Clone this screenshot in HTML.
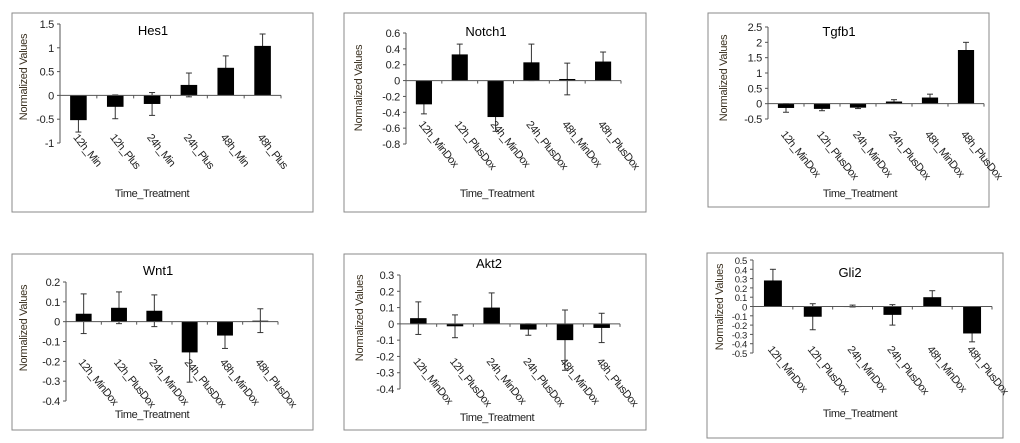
<!DOCTYPE html>
<html><head><meta charset="utf-8"><style>
html,body{margin:0;padding:0;background:#fff;}
svg{display:block;font-family:"Liberation Sans",Arial,sans-serif;}
</style></head><body>
<svg id="chart" width="1020" height="443" viewBox="0 0 1020 443"></svg>
<script>
const hes1Cats = ["12h_Min","12h_Plus","24h_Min","24h_Plus","48h_Min","48h_Plus"];
const doxCats = ["12h_MinDox","12h_PlusDox","24h_MinDox","24h_PlusDox","48h_MinDox","48h_PlusDox"];
const hes1Values = [-0.52,-0.24,-0.18,0.22,0.58,1.04];
const hes1Errors = [0.25,0.25,0.24,0.25,0.25,0.25];
const hes1Ticks = [1.5,1,0.5,0,-0.5,-1];
const notch1Values = [-0.3,0.33,-0.46,0.23,0.02,0.24];
const notch1Errors = [0.12,0.13,0.18,0.23,0.2,0.12];
const notch1Ticks = [0.6,0.4,0.2,0,-0.2,-0.4,-0.6,-0.8];
const tgfb1Values = [-0.14,-0.17,-0.13,0.07,0.2,1.75];
const tgfb1Errors = [0.14,0.06,0.03,0.06,0.11,0.25];
const tgfb1Ticks = [2.5,2,1.5,1,0.5,0,-0.5];
const wnt1Values = [0.04,0.07,0.055,-0.155,-0.07,0.005];
const wnt1Errors = [0.1,0.08,0.08,0.15,0.065,0.06];
const wnt1Ticks = [0.2,0.1,0,-0.1,-0.2,-0.3,-0.4];
const akt2Values = [0.035,-0.015,0.1,-0.035,-0.1,-0.025];
const akt2Errors = [0.1,0.07,0.09,0.035,0.185,0.09];
const akt2Ticks = [0.3,0.2,0.1,0,-0.1,-0.2,-0.3,-0.4];
const gli2Values = [0.28,-0.11,0.005,-0.09,0.1,-0.29];
const gli2Errors = [0.12,0.14,0.01,0.11,0.07,0.09];
const gli2Ticks = [0.5,0.4,0.3,0.2,0.1,0,-0.1,-0.2,-0.3,-0.4,-0.5];

const svg = document.getElementById('chart');
const NS = 'http://www.w3.org/2000/svg';
function mk(tag, attrs, parent, text){
  const e = document.createElementNS(NS, tag);
  for (const k in attrs) e.setAttribute(k, attrs[k]);
  if (text !== undefined) e.textContent = text;
  parent.appendChild(e);
  return e;
}
function panel(p){
  const g = mk('g', {}, svg);
  
  
  const fr = mk('rect', {x:p.fx, y:p.fy, width:p.fw, height:p.fh, fill:'#fff', stroke:'#8a8a8a', 'stroke-width':1}, g);
  
  
  const tmax = p.ticks[0], tmin = p.ticks[p.ticks.length-1];
  const yS = v => p.yTop + (tmax - v) / (tmax - tmin) * (p.yBot - p.yTop);
  const bw = (p.xEnd - p.ax) / p.cats.length;
  const xS = i => p.ax + bw * (i + 0.5);
  const y0 = yS(0);
  const ya = mk('line', {x1:p.ax, x2:p.ax, y1:p.yTop, y2:p.yBot, stroke:'#555', 'stroke-width':1}, g);
  
  
  p.ticks.forEach(t => {
    const y = yS(t);
    mk('line', {x1:p.ax-3, x2:p.ax, y1:y, y2:y, stroke:'#555'}, g);
    const tl = mk('text', {x:p.ax-6, y:y+4, 'text-anchor':'end', 'font-size':p.tfs||11, fill:'#222', 'letter-spacing':'-0.3'}, g, String(t));
    
    
  });
  p.values.forEach((v, i) => {
    const cx = xS(i);
    const e = p.errors[i];
    const eh = mk('line', {x1:cx, x2:cx, y1:yS(v+e), y2:yS(v-e), stroke:'#333', 'stroke-width':1}, g);
    
    
    [v+e, v-e].forEach(ev => mk('line', {x1:cx-3, x2:cx+3, y1:yS(ev), y2:yS(ev), stroke:'#333'}, g));
  });
  p.values.forEach((v, i) => {
    const cx = xS(i), w = bw * 0.45;
    const yv = yS(v);
    const b = mk('rect', {x:cx-w/2, y:Math.min(yv,y0), width:w, height:Math.max(1,Math.abs(yv-y0)), fill:'#000'}, g);
    
    
  });
  const xa = mk('line', {x1:p.ax, x2:p.xEnd, y1:y0, y2:y0, stroke:'#555', 'stroke-width':1}, g);
  
  
  for (let i = 1; i <= p.cats.length; i++) mk('line', {x1:p.ax+bw*i, x2:p.ax+bw*i, y1:y0, y2:y0+3, stroke:'#555'}, g);
  p.cats.forEach((c, i) => {
    const x = xS(i);
    const t = mk('text', {x:x, y:p.labY, 'font-size':11, fill:'#222', 'letter-spacing':'-0.6', transform:`rotate(51 ${x} ${p.labY})`, 'dominant-baseline':'hanging'}, g, c);
    
    
  });
  const ti = mk('text', {x:p.tx, y:p.ty, 'text-anchor':'middle', 'font-size':13, fill:'#000'}, g, p.title);
  
  
  const yt = mk('text', {x:p.ytx, y:p.yty, 'text-anchor':'middle', 'font-size':11, fill:'#3a3020', 'letter-spacing':'-0.3', transform:`rotate(-90 ${p.ytx} ${p.yty})`}, g, 'Normalized Values');
  
  
  const xt = mk('text', {x:p.xtx, y:p.xty, 'text-anchor':'middle', 'font-size':11, fill:'#222', 'letter-spacing':'-0.4'}, g, 'Time_Treatment');
  
  
}
panel({name:'hes1', title:'Hes1', cats:hes1Cats, values:hes1Values, errors:hes1Errors, ticks:hes1Ticks,
  fx:12, fy:13, fw:301, fh:199, ax:60, xEnd:281, yTop:24, yBot:143, labY:133, tx:153, ty:35, ytx:27, yty:77, xtx:152, xty:197});
panel({name:'notch1', title:'Notch1', cats:doxCats, values:notch1Values, errors:notch1Errors, ticks:notch1Ticks,
  fx:344, fy:13, fw:302, fh:199, ax:406, xEnd:621, yTop:33, yBot:144, labY:120, tx:486, ty:36, ytx:362, yty:88, xtx:497, xty:197});
panel({name:'tgfb1', title:'Tgfb1', cats:doxCats, values:tgfb1Values, errors:tgfb1Errors, ticks:tgfb1Ticks,
  fx:708, fy:13, fw:281, fh:194, ax:768, xEnd:984, yTop:27, yBot:119, labY:130, tx:839, ty:36, ytx:727, yty:78, xtx:860, xty:197});
panel({name:'wnt1', title:'Wnt1', cats:doxCats, values:wnt1Values, errors:wnt1Errors, ticks:wnt1Ticks,
  fx:12, fy:254, fw:301, fh:176, ax:66, xEnd:278, yTop:282, yBot:401, labY:358, tx:158, ty:275, ytx:27, yty:328, xtx:152, xty:418});
panel({name:'akt2', title:'Akt2', cats:doxCats, values:akt2Values, errors:akt2Errors, ticks:akt2Ticks,
  fx:344, fy:254, fw:302, fh:176, ax:400, xEnd:620, yTop:275, yBot:389, labY:357, tx:489, ty:268, ytx:363, yty:318, xtx:497, xty:421});
panel({name:'gli2', title:'Gli2', cats:doxCats, values:gli2Values, errors:gli2Errors, ticks:gli2Ticks, tfs:9.5,
  fx:707, fy:253, fw:296, fh:185, ax:753, xEnd:992, yTop:260, yBot:353, labY:345, tx:850, ty:277, ytx:723, yty:307, xtx:860, xty:417});
</script>
</body></html>
